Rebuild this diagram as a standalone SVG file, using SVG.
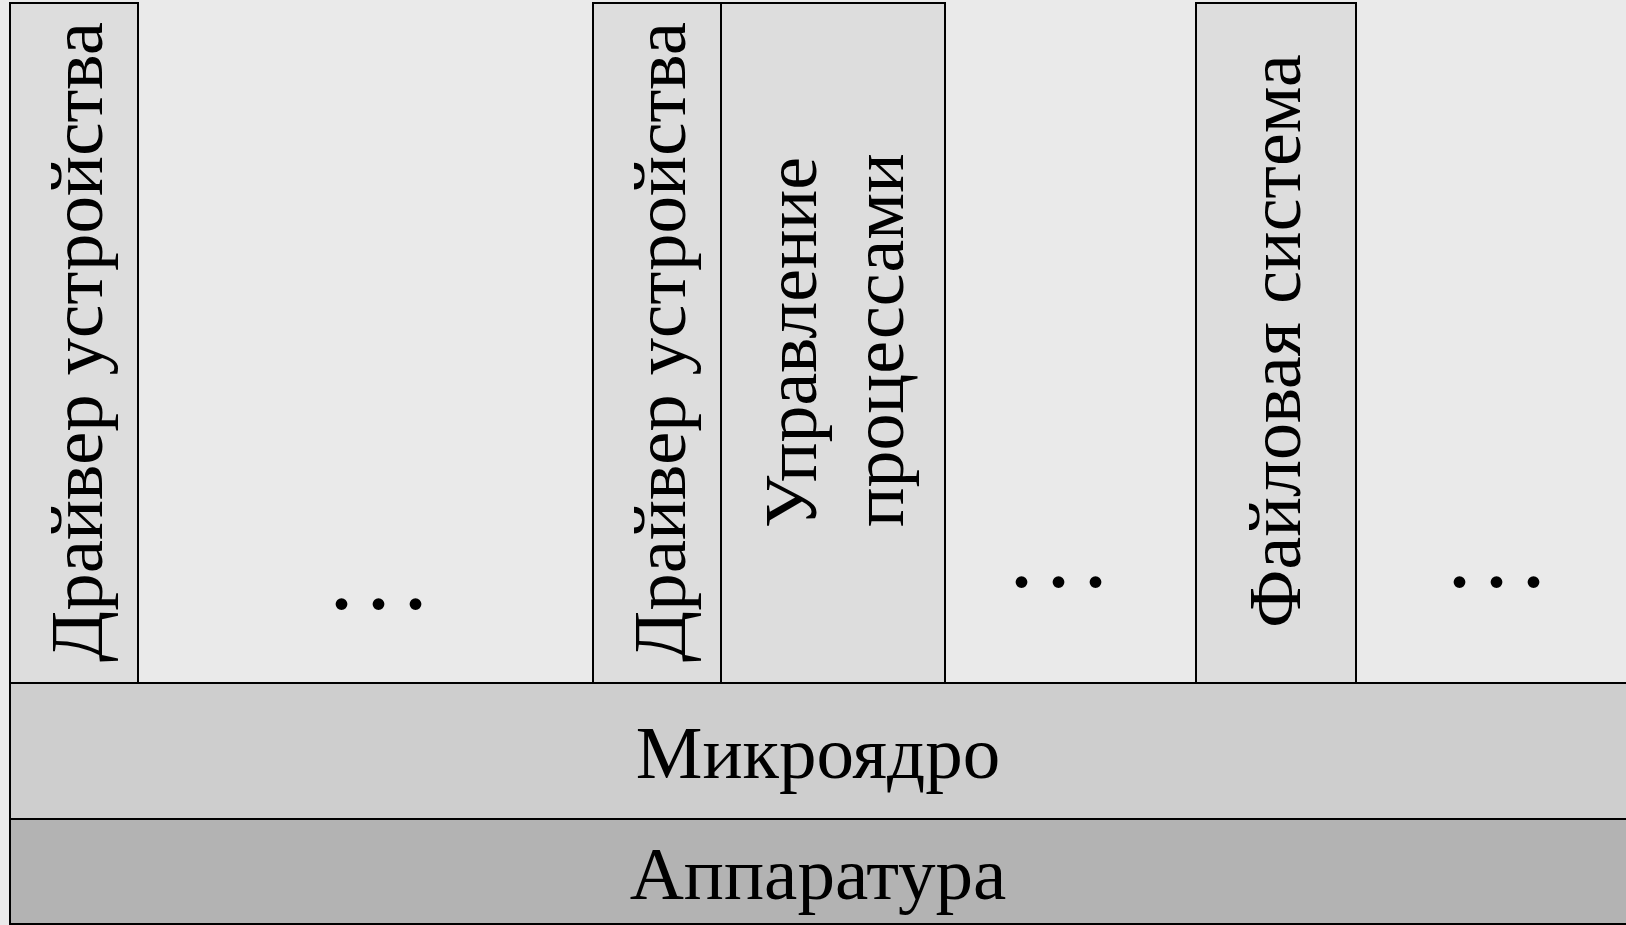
<svg xmlns="http://www.w3.org/2000/svg" width="1626" height="925" viewBox="0 0 1626 925">
<style>
.box{fill:#dddddd;stroke:#000;stroke-width:2}
.t{font-family:"Liberation Serif","Times New Roman",serif;font-size:75px;fill:#000}
.h{font-family:"Liberation Serif","Times New Roman",serif;font-size:75px;fill:#000;text-anchor:middle}
.d{font-family:"Liberation Serif","Times New Roman",serif;font-size:100px;fill:#000;letter-spacing:12px}
</style>
<rect x="0" y="0" width="1626" height="925" fill="#eaeaea"/>
<g id="driver1">
<rect class="box" x="10" y="3" width="128" height="680"/>
<text class="t" text-anchor="middle" transform="translate(102,342) rotate(-90)">Драйвер устройства</text>
</g>
<g id="dots1"><text class="d" x="329" y="609">...</text></g>
<g id="driver2">
<rect class="box" x="593" y="3" width="128" height="680"/>
<text class="t" text-anchor="middle" transform="translate(685,342) rotate(-90)">Драйвер устройства</text>
</g>
<g id="process">
<rect class="box" x="721" y="3" width="224" height="680"/>
<text class="t" style="font-size:74px" transform="translate(816,528) rotate(-90)">Управление</text>
<text class="t" style="font-size:74px" transform="translate(903,527) rotate(-90)">процессами</text>
</g>
<g id="dots2"><text class="d" x="1009" y="587">...</text></g>
<g id="filesystem">
<rect class="box" x="1196" y="3" width="160" height="680"/>
<text class="t" style="font-size:74px" text-anchor="middle" transform="translate(1300,341) rotate(-90)">Файловая система</text>
</g>
<g id="dots3"><text class="d" x="1447" y="587">...</text></g>
<g id="microkernel">
<rect x="10" y="683" width="1630" height="136" fill="#cecece" stroke="#000" stroke-width="2"/>
<text class="h" x="818" y="778">Микроядро</text>
</g>
<g id="hardware">
<rect x="10" y="819" width="1630" height="105" fill="#b3b3b3" stroke="#000" stroke-width="2"/>
<text class="h" x="818" y="899">Аппаратура</text>
</g>
<g id="connectors"></g>
</svg>
